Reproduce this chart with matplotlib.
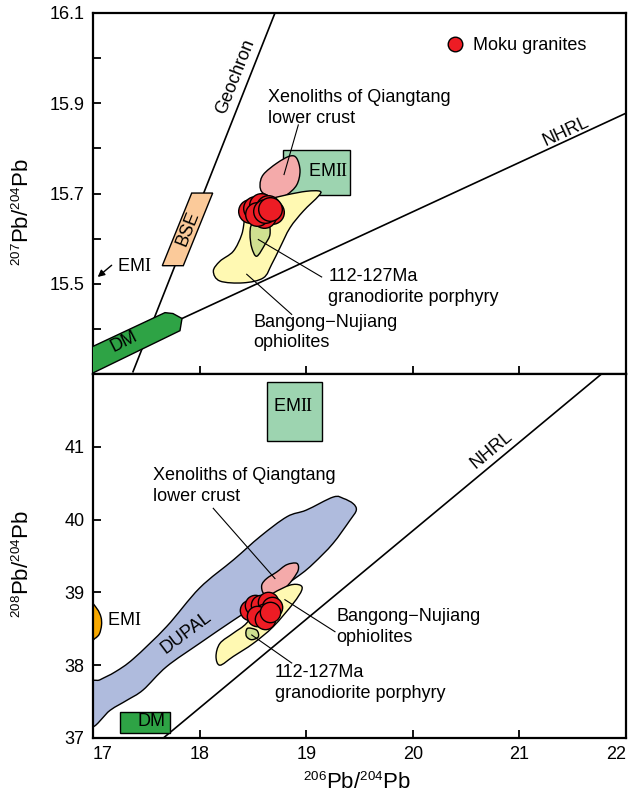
import numpy as np
import matplotlib
matplotlib.use("Agg")
import matplotlib.pyplot as plt
from matplotlib.patches import Polygon, Rectangle, PathPatch
from matplotlib.path import Path
from matplotlib.lines import Line2D
try:
    import matplotlib._mathtext as _mt
    _mt.SHRINK_FACTOR = 0.6
except Exception:
    pass

plt.rcParams['font.family'] = ['Liberation Sans', 'DejaVu Sans']
plt.rcParams['mathtext.fontset'] = 'custom'
plt.rcParams['mathtext.rm'] = 'Liberation Serif'
plt.rcParams['mathtext.sf'] = 'Liberation Sans'

# ---------------- data ----------------
# Moku granites samples
pb206 = [18.47, 18.52, 18.58, 18.645, 18.675, 18.60, 18.535, 18.615, 18.66]
pb207 = [15.662, 15.668, 15.675, 15.671, 15.660, 15.650, 15.655, 15.662, 15.665]
pb208 = [38.76, 38.83, 38.83, 38.87, 38.80, 38.71, 38.67, 38.64, 38.73]

# reference lines
geochron_206 = [17.375, 18.707]
geochron_207 = [15.305, 16.10]
nhrl_top_206 = [17.835, 22.0]
nhrl_top_207 = [15.423, 15.878]
nhrl_bot_206 = [17.66, 21.77]
nhrl_bot_208 = [37.0, 42.0]

# fields, 207 vs 206
xeno_top_206 = [18.911, 18.942, 18.911, 18.817, 18.723, 18.595, 18.567, 18.598, 18.723, 18.848]
xeno_top_207 = [15.778, 15.750, 15.719, 15.697, 15.690, 15.701, 15.719, 15.742, 15.767, 15.783]
bn_top_206 = [19.129, 19.114, 18.973, 18.848, 18.754, 18.676, 18.598, 18.410, 18.191,
              18.129, 18.191, 18.316, 18.395, 18.426, 18.473, 18.629, 18.817, 19.005]
bn_top_207 = [15.705, 15.694, 15.661, 15.624, 15.580, 15.543, 15.513, 15.502, 15.506,
              15.528, 15.550, 15.572, 15.609, 15.646, 15.675, 15.686, 15.697, 15.705]
gp_top_206 = [18.489, 18.567, 18.645, 18.660, 18.613, 18.536, 18.489, 18.473]
gp_top_207 = [15.631, 15.631, 15.635, 15.609, 15.587, 15.561, 15.580, 15.609]
emii_top_206 = [18.78, 19.41]
emii_top_207 = [15.696, 15.797]
bse_206 = [17.926, 18.123, 17.847, 17.650]
bse_207 = [15.701, 15.701, 15.540, 15.540]
dm_top_206 = [16.98, 17.675, 17.750, 17.835, 17.816, 16.98]
dm_top_207 = [15.359, 15.436, 15.434, 15.423, 15.396, 15.300]

# fields, 208 vs 206
dupal_206 = [16.98, 17.066, 17.21, 17.38, 17.69, 18.0, 18.32, 18.57, 18.82, 19.0, 19.254,
             19.35, 19.44, 19.47, 19.41, 19.25, 19.07, 18.94, 18.63, 18.32, 18.0, 17.69,
             17.47, 17.32, 17.16, 16.98]
dupal_208 = [37.73, 37.80, 37.91, 38.09, 38.53, 39.06, 39.45, 39.77, 40.04, 40.13, 40.31,
             40.29, 40.22, 40.13, 39.99, 39.67, 39.40, 39.24, 38.92, 38.62, 38.30, 37.98,
             37.66, 37.52, 37.38, 37.16]
xeno_bot_206 = [18.911, 18.926, 18.879, 18.817, 18.754, 18.660, 18.598, 18.583, 18.629, 18.723, 18.817]
xeno_bot_208 = [39.40, 39.31, 39.19, 39.08, 38.99, 38.96, 38.99, 39.10, 39.19, 39.28, 39.38]
bn_bot_206 = [18.942, 18.958, 18.879, 18.691, 18.504, 18.316, 18.191, 18.154, 18.191,
              18.316, 18.442, 18.567, 18.691, 18.848]
bn_bot_208 = [39.10, 39.03, 38.85, 38.53, 38.30, 38.12, 38.00, 38.12, 38.30,
              38.44, 38.58, 38.85, 38.99, 39.10]
gp_bot_206 = [18.457, 18.536, 18.551, 18.489, 18.442, 18.435]
gp_bot_208 = [38.51, 38.48, 38.39, 38.35, 38.39, 38.46]
emii_bot_206 = [18.63, 19.145]
emii_bot_208 = [41.08, 41.89]
dm_bot_206 = [17.25, 17.72]
dm_bot_208 = [37.07, 37.36]
emi_bot_206 = [16.98, 17.04, 17.075, 17.08, 17.06, 17.02, 16.98]
emi_bot_208 = [38.83, 38.77, 38.66, 38.55, 38.43, 38.37, 38.37]

x_ticks = [17, 18, 19, 20, 21, 22]
top_major = [15.5, 15.7, 15.9, 16.1]
top_minor = [15.4, 15.6, 15.8, 16.0]
bot_ticks = [37, 38, 39, 40, 41]

# ---------------- style ----------------
RED = '#ED1C24'
PINK = '#F4AAAA'
YELLOW = '#FFF9B2'
GRN_LIGHT = '#CFE090'
MINT = '#9DD4B0'
PEACH = '#FBCA9A'
DMGREEN = '#2EA345'
BLUE = '#AFBBDD'
ORANGE = '#F7A800'
FS = 13
LW_E = 1.0


def smooth_patch(xs, ys, **kw):
    pts = np.column_stack([xs, ys]).astype(float)
    n = len(pts)
    verts = [pts[0]]
    codes = [Path.MOVETO]
    for i in range(n):
        p0 = pts[i - 1]
        p1 = pts[i]
        p2 = pts[(i + 1) % n]
        p3 = pts[(i + 2) % n]
        verts += [p1 + (p2 - p0) / 6.0, p2 - (p3 - p1) / 6.0, p2]
        codes += [Path.CURVE4] * 3
    verts.append(pts[0])
    codes.append(Path.CLOSEPOLY)
    return PathPatch(Path(verts, codes), **kw)


def poly(xs, ys, **kw):
    return Polygon(np.column_stack([xs, ys]), closed=True, **kw)


def rect(xr, yr, **kw):
    return Rectangle((xr[0], yr[0]), xr[1] - xr[0], yr[1] - yr[0], **kw)


def line_angle(ax, xs, ys):
    p = ax.transData.transform(np.column_stack([xs, ys]))
    return np.degrees(np.arctan2(p[1, 1] - p[0, 1], p[1, 0] - p[0, 0]))


W, H = 643, 795
fig = plt.figure(figsize=(W / 100, H / 100), dpi=100)
L = 93 / W
Wd = (626 - 93) / W
ax1 = fig.add_axes([L, 1 - 374 / H, Wd, (374 - 13) / H])
ax2 = fig.add_axes([L, 1 - 738 / H, Wd, (738 - 374) / H])

ax1.set_xlim(17, 22)
ax1.set_ylim(15.3, 16.1)
ax2.set_xlim(17, 22)
ax2.set_ylim(37, 42)

for ax in (ax1, ax2):
    for s in ax.spines.values():
        s.set_linewidth(1.6)
    ax.tick_params(which='both', direction='in', length=5.5, width=1.3,
                   labelsize=FS, pad=6)

ax1.set_xticks(x_ticks)
ax1.set_xticklabels([])
ax1.set_yticks(top_major)
ax1.set_yticks(top_minor, minor=True)
ax1.set_yticklabels([f'{v:.1f}' for v in top_major])
ax1.tick_params(axis='x', which='minor', length=0)

ax2.set_xticks(x_ticks)
ax2.set_xticklabels([str(v) for v in x_ticks])
ax2.set_yticks(bot_ticks)
ax2.set_yticklabels([str(v) for v in bot_ticks])
xl = ax2.get_xticklabels()
xl[0].set_horizontalalignment('left')
xl[-1].set_horizontalalignment('right')

# ---------------- top panel ----------------
ax1.add_patch(rect(emii_top_206, emii_top_207, fc=MINT, ec='k', lw=LW_E, zorder=2))
ax1.add_patch(poly(bse_206, bse_207, fc=PEACH, ec='k', lw=LW_E, zorder=3))
ax1.plot(geochron_206, geochron_207, color='k', lw=1.2, zorder=2)
ax1.plot(nhrl_top_206, nhrl_top_207, color='k', lw=1.2, zorder=2)
ax1.add_patch(poly(dm_top_206, dm_top_207, fc=DMGREEN, ec='k', lw=LW_E, zorder=3))
ax1.add_patch(smooth_patch(xeno_top_206, xeno_top_207, fc=PINK, ec='k', lw=LW_E, zorder=3))
ax1.add_patch(smooth_patch(bn_top_206, bn_top_207, fc=YELLOW, ec='k', lw=LW_E, zorder=4))
ax1.add_patch(smooth_patch(gp_top_206, gp_top_207, fc=GRN_LIGHT, ec='k', lw=LW_E, zorder=5))
ax1.scatter(pb206, pb207, s=290, c=RED, edgecolors='k', linewidths=1.0, zorder=6)

ang_geo = line_angle(ax1, geochron_206, geochron_207)
ang_nt = line_angle(ax1, nhrl_top_206, nhrl_top_207)
ax1.text(18.332, 15.96, 'Geochron', rotation=ang_geo, rotation_mode='anchor',
         ha='center', va='center', fontsize=FS, zorder=7)
ax1.text(17.894, 15.622, 'BSE', rotation=ang_geo, rotation_mode='anchor',
         ha='center', va='center', fontsize=FS, zorder=7)
ax1.text(17.29, 15.372, 'DM', rotation=ang_nt + 2, rotation_mode='anchor',
         ha='center', va='center', fontsize=FS, zorder=7)
ax1.text(21.44, 15.838, 'NHRL', rotation=ang_nt, rotation_mode='anchor',
         ha='center', va='center', fontsize=FS, zorder=7)
ax1.text(19.204, 15.748, r'EM$\mathrm{II}$', ha='center', va='center', fontsize=FS, zorder=7)
ax1.text(17.222, 15.539, r'EM$\mathrm{I}$', ha='left', va='center', fontsize=FS, zorder=7)
ax1.annotate('', xy=(17.044, 15.515), xytext=(17.175, 15.541),
             arrowprops=dict(arrowstyle='-|>', color='k', lw=1.0,
                             mutation_scale=10, shrinkA=0, shrinkB=0), zorder=7)

ax1.text(18.644, 15.889, 'Xenoliths of Qiangtang\nlower crust', ha='left', va='center',
         fontsize=FS, linespacing=1.3, zorder=7)
ax1.plot([18.926, 18.792], [15.852, 15.742], color='k', lw=0.8, zorder=7)
ax1.text(19.207, 15.493, '112-127Ma\ngranodiorite porphyry', ha='left', va='center',
         fontsize=FS, linespacing=1.3, zorder=7)
ax1.plot([18.551, 19.145], [15.598, 15.515], color='k', lw=0.8, zorder=7)
ax1.text(18.504, 15.392, 'Bangong\u2212Nujiang\nophiolites', ha='left', va='center',
         fontsize=FS, linespacing=1.3, zorder=7)
ax1.plot([18.442, 18.864], [15.521, 15.432], color='k', lw=0.8, zorder=7)

leg_handle = Line2D([], [], marker='o', ls='none', mfc=RED, mec='k', mew=1.0, ms=10.5)
ax1.legend([leg_handle], ['Moku granites'], loc='upper left', bbox_to_anchor=(0.662, 0.934),
           frameon=False, fontsize=FS, handlelength=1.0, handletextpad=0.5,
           borderpad=0, borderaxespad=0)

ax1.set_ylabel(r'$\mathsf{^{207}Pb/^{204}Pb}$', fontsize=16, va='center')
ax1.yaxis.set_label_coords((23 - 93) / 533, (374 - 212) / 361)

# ---------------- bottom panel ----------------
ax2.add_patch(smooth_patch(dupal_206, dupal_208, fc=BLUE, ec='k', lw=LW_E, zorder=2))
ax2.plot(nhrl_bot_206, nhrl_bot_208, color='k', lw=1.2, zorder=2)
ax2.add_patch(rect(emii_bot_206, emii_bot_208, fc=MINT, ec='k', lw=LW_E, zorder=2))
ax2.add_patch(rect(dm_bot_206, dm_bot_208, fc=DMGREEN, ec='k', lw=LW_E, zorder=2))
ax2.add_patch(smooth_patch(emi_bot_206, emi_bot_208, fc=ORANGE, ec='k', lw=LW_E, zorder=2))
ax2.add_patch(smooth_patch(xeno_bot_206, xeno_bot_208, fc=PINK, ec='k', lw=LW_E, zorder=3))
ax2.add_patch(smooth_patch(bn_bot_206, bn_bot_208, fc=YELLOW, ec='k', lw=LW_E, zorder=4))
ax2.add_patch(smooth_patch(gp_bot_206, gp_bot_208, fc=GRN_LIGHT, ec='k', lw=LW_E, zorder=5))
ax2.scatter(pb206, pb208, s=215, c=RED, edgecolors='k', linewidths=1.0, zorder=6)

ang_nb = line_angle(ax2, nhrl_bot_206, nhrl_bot_208)
ax2.text(20.74, 40.956, 'NHRL', rotation=ang_nb, rotation_mode='anchor',
         ha='center', va='center', fontsize=FS, zorder=7)
ax2.text(17.879, 38.44, 'DUPAL', rotation=37, rotation_mode='anchor',
         ha='center', va='center', fontsize=FS, zorder=7)
ax2.text(18.879, 41.55, r'EM$\mathrm{II}$', ha='center', va='center', fontsize=FS, zorder=7)
ax2.text(17.55, 37.22, 'DM', ha='center', va='center', fontsize=FS, zorder=7)
ax2.text(17.134, 38.62, r'EM$\mathrm{I}$', ha='left', va='center', fontsize=FS, zorder=7)

ax2.text(17.566, 40.46, 'Xenoliths of Qiangtang\nlower crust', ha='left', va='center',
         fontsize=FS, linespacing=1.3, zorder=7)
ax2.plot([18.128, 18.707], [40.155, 39.19], color='k', lw=0.8, zorder=7)
ax2.text(19.286, 38.52, 'Bangong\u2212Nujiang\nophiolites', ha='left', va='center',
         fontsize=FS, linespacing=1.3, zorder=7)
ax2.plot([18.80, 19.27], [38.90, 38.46], color='k', lw=0.8, zorder=7)
ax2.text(18.707, 37.755, '112-127Ma\ngranodiorite porphyry', ha='left', va='center',
         fontsize=FS, linespacing=1.3, zorder=7)
ax2.plot([18.489, 18.864], [38.415, 38.03], color='k', lw=0.8, zorder=7)

ax2.set_ylabel(r'$\mathsf{^{208}Pb/^{204}Pb}$', fontsize=16, va='center')
ax2.yaxis.set_label_coords((23 - 93) / 533, (738 - 564) / 364)
ax2.set_xlabel(r'$\mathsf{^{206}Pb/^{204}Pb}$', fontsize=16, va='center')
ax2.xaxis.set_label_coords((357 - 93) / 533, (738 - 783) / 364)

fig.savefig('out.png', dpi=100)
